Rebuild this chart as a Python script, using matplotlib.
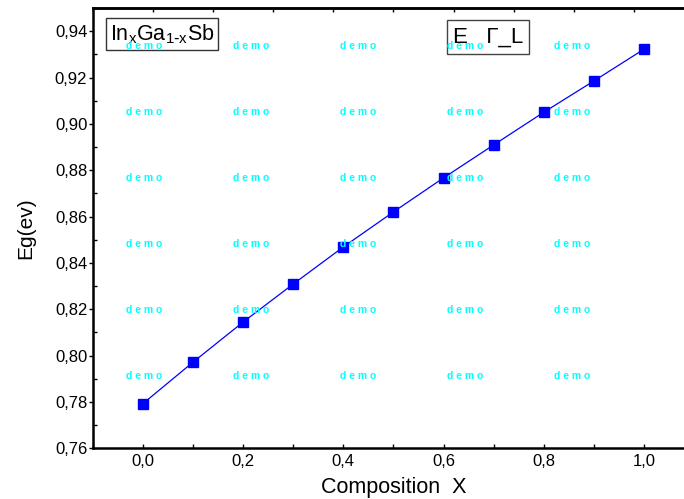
import numpy as np
import matplotlib
matplotlib.use('Agg')
import matplotlib.pyplot as plt
from matplotlib.ticker import MultipleLocator, FuncFormatter

plt.rcParams['font.family'] = ['Liberation Sans', 'DejaVu Sans']
plt.rcParams['mathtext.default'] = 'regular'

# composition x and band gap values
composition = [0.0, 0.1, 0.2, 0.3, 0.4, 0.5, 0.6, 0.7, 0.8, 0.9, 1.0]
eg_values = [0.7793, 0.7972, 0.8145, 0.8309, 0.8469, 0.8620,
             0.8767, 0.8909, 0.9050, 0.9185, 0.9322]

W, H = 684, 499
fig = plt.figure(figsize=(W / 100, H / 100), dpi=100)
# axes runs a little past the right edge of the picture, like the source
ax = fig.add_axes([92.9 / W, (H - 448.3) / H, (694 - 92.9) / W, (448.3 - 8) / H])

ax.plot(composition, eg_values, color='#0000ff', lw=0.9,
        marker='s', ms=7.2, mfc='#0000ff', mec='#0000ff', zorder=3)

ax.set_xlim(-0.1, 1.1)
ax.set_ylim(0.76, 0.95)

comma = FuncFormatter(lambda v, p: f'{v:.1f}'.replace('.', ','))
comma2 = FuncFormatter(lambda v, p: f'{v:.2f}'.replace('.', ','))
ax.xaxis.set_major_locator(MultipleLocator(0.2))
ax.xaxis.set_minor_locator(MultipleLocator(0.1))
ax.xaxis.set_major_formatter(comma)
ax.yaxis.set_major_locator(MultipleLocator(0.02))
ax.yaxis.set_minor_locator(MultipleLocator(0.01))
ax.yaxis.set_major_formatter(comma2)

ax.tick_params(axis='x', which='both', direction='in', length=3, width=1,
               labelsize=12, pad=4, top=False)
ax.tick_params(axis='y', which='major', direction='out', length=3, width=1,
               labelsize=12, pad=1)
ax.tick_params(axis='y', which='minor', direction='in', length=3, width=1)

for side in ['left', 'bottom', 'top']:
    ax.spines[side].set_linewidth(1.8)
ax.spines['right'].set_visible(False)

top = ax.secondary_xaxis('top')
top.set_xticks(np.linspace(-0.1, 1.1, 11))
top.tick_params(direction='in', length=3, width=1, labeltop=False)
top.spines['top'].set_linewidth(1.8)

ax.set_xlabel('Composition  X', fontsize=15.5, labelpad=6)
ax.set_ylabel('Eg(ev)', fontsize=15, labelpad=14)

# title-like boxes
fig.text(162 / W, 1 - 34 / H, r'In$_{x}$Ga$_{1\text{-}x}$Sb', fontsize=15.5,
         ha='center', va='center',
         bbox=dict(boxstyle='square,pad=0.18', fc='white', ec='#333333', lw=1))
fig.text(488 / W, 1 - 37 / H, 'E   Γ_L', fontsize=16,
         ha='center', va='center',
         bbox=dict(boxstyle='square,pad=0.28', fc='white', ec='#444444', lw=1))

# watermark grid
for cx in [144, 251, 358, 465, 572]:
    for cy in [46, 112, 178, 244, 310, 376]:
        fig.text(cx / W, 1 - cy / H, 'd e m o', color='#00ffff', fontsize=7.5,
                 fontweight='bold', ha='center', va='center', zorder=5)

fig.savefig('out.png', dpi=100)
